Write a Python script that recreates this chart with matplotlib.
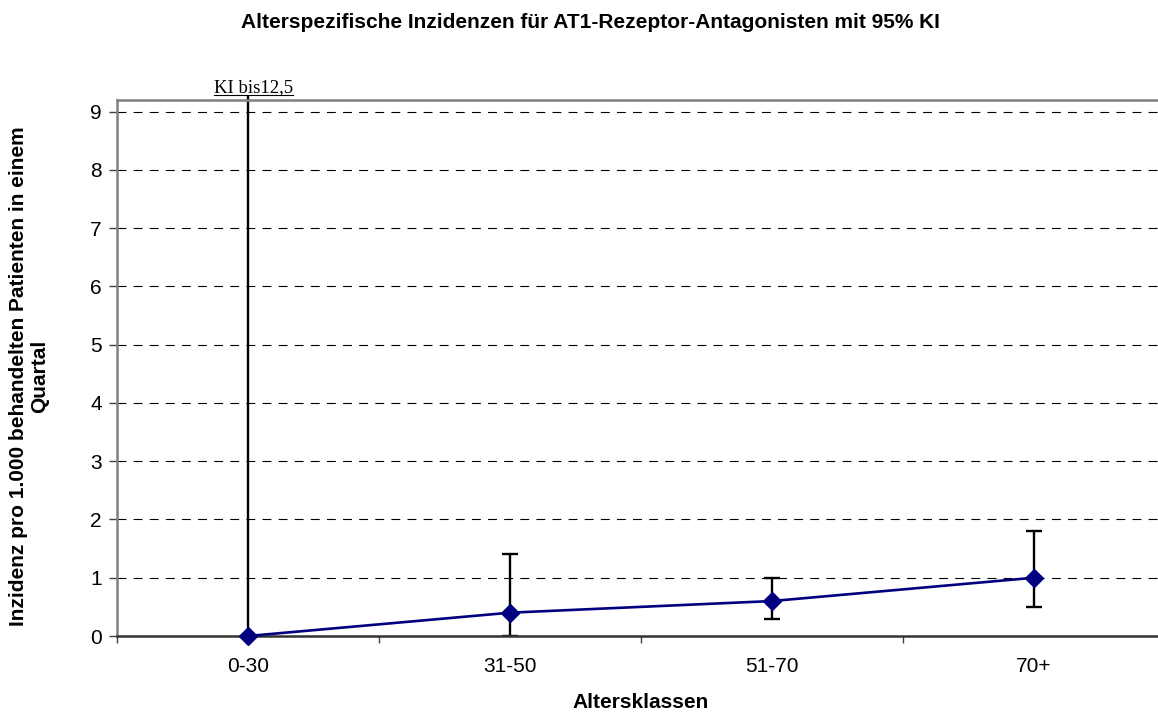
import matplotlib
matplotlib.use("Agg")
import matplotlib.pyplot as plt
from matplotlib.patches import Rectangle
from matplotlib.lines import Line2D

# Data
categories = ["0-30", "31-50", "51-70", "70+"]
incidence = [0.0, 0.4, 0.6, 1.0]
ci_lower = [0.0, 0.0, 0.3, 0.5]
ci_upper = [12.5, 1.4, 1.0, 1.8]
y_ticks = [0, 1, 2, 3, 4, 5, 6, 7, 8, 9]
ci_note = "KI bis12,5"

title = "Alterspezifische Inzidenzen für AT1-Rezeptor-Antagonisten mit 95% KI"
xlabel = "Altersklassen"
ylabel = "Inzidenz pro 1.000 behandelten Patienten in einem\nQuartal"

plt.rcParams["font.family"] = ["Liberation Sans", "DejaVu Sans"]

W, H = 1158, 713
fig = plt.figure(figsize=(W / 100, H / 100), dpi=100)
left_px, right_px, top_px, bottom_px = 117, 1165, 100, 636
ax = fig.add_axes([left_px / W, 1 - bottom_px / H,
                   (right_px - left_px) / W, (bottom_px - top_px) / H])

x = list(range(len(categories)))
ymax = 9.2
ax.set_xlim(-0.5, len(categories) - 0.5)
ax.set_ylim(0, ymax)

# horizontal dashed grid
for t in y_ticks[1:]:
    ax.axhline(t, color="black", lw=0.8, dashes=(8, 6.5), zorder=1)

# error bars
yerr = [[v - lo for v, lo in zip(incidence, ci_lower)],
        [hi - v for v, hi in zip(incidence, ci_upper)]]
eb = ax.errorbar(x, incidence, yerr=yerr, fmt="none", ecolor="black",
                 elinewidth=1.7, capsize=6, capthick=1.7, zorder=2)
clip_rect = Rectangle((0, 0), 1, 1.0095, transform=ax.transAxes,
                      facecolor="none", edgecolor="none")
fig.add_artist(clip_rect)
clip_rect.set_visible(False)
for coll in eb[2]:
    coll.set_clip_path(clip_rect)
for cap in eb[1]:
    cap.set_clip_path(clip_rect)

# series line with diamond markers
ax.plot(x, incidence, color="#000080", lw=1.9, marker="D", markersize=9.5,
        markerfacecolor="#000080", markeredgecolor="#000080", zorder=3,
        clip_on=False)

# note above the truncated confidence interval
note = ax.text(x[0] + 0.02, 1.014, ci_note, transform=ax.get_xaxis_transform(),
               ha="center", va="baseline", fontsize=13.5,
               family=["Liberation Serif", "DejaVu Serif"])

# ticks
ax.set_yticks(y_ticks)
ax.set_xticks([i + 0.5 for i in range(-1, len(categories) - 1)])
ax.set_xticklabels([])
ax.set_xticks(x, minor=True)
ax.set_xticklabels(categories, minor=True, fontsize=15)
ax.tick_params(axis="x", which="major", direction="out", length=5,
               width=1, color="#404040")
ax.tick_params(axis="x", which="minor", length=0, pad=15)
ax.tick_params(axis="y", direction="out", length=6, width=1,
               color="#404040", labelsize=15, pad=5)

for s in ("top", "left"):
    ax.spines[s].set_color("#808080")
    ax.spines[s].set_linewidth(1.8)
ax.spines["bottom"].set_color("#333333")
ax.spines["bottom"].set_linewidth(1.8)
ax.spines["right"].set_visible(False)

ax.set_xlabel(xlabel, fontsize=15, fontweight="bold", labelpad=12)
fig.text(29 / W, 1 - 376 / H, ylabel, rotation=90, ha="center", va="center",
         multialignment="center", fontsize=15, fontweight="bold",
         linespacing=1.15)
fig.text(0.51, 1 - 28.5 / H, title, ha="center", va="baseline",
         fontsize=15, fontweight="bold")

# underline the note
fig.canvas.draw()
bb = note.get_window_extent(fig.canvas.get_renderer())
uy = (H - 95) / H
fig.add_artist(Line2D([bb.x0 / W, bb.x1 / W], [uy, uy], color="black",
                      lw=0.8, transform=fig.transFigure))

fig.savefig("out.png", dpi=100)
